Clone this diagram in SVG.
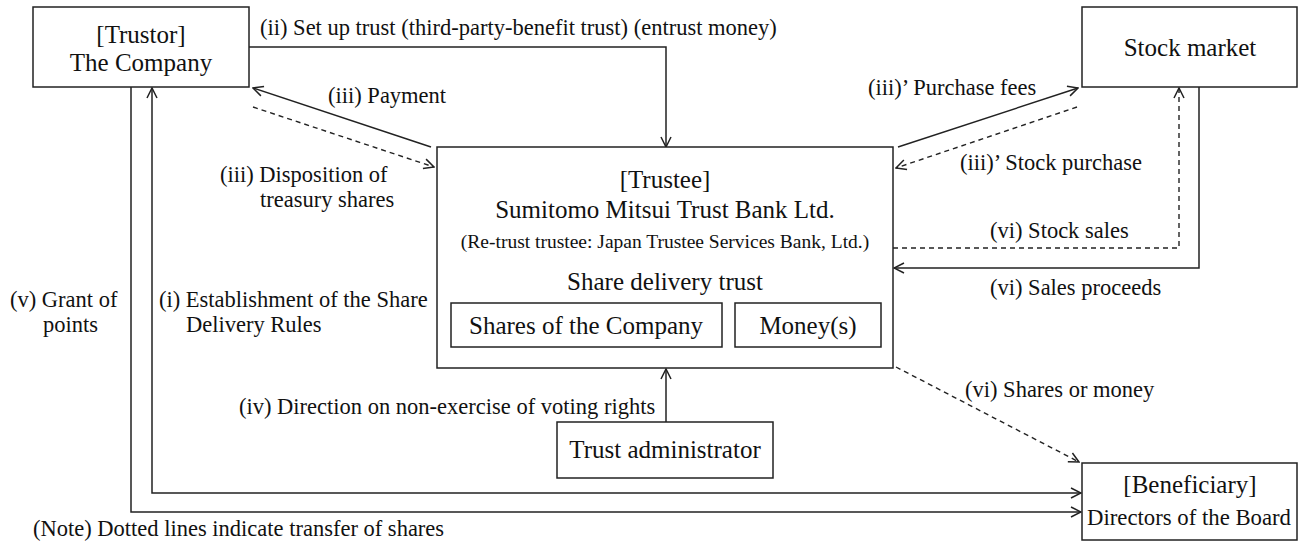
<svg xmlns="http://www.w3.org/2000/svg" width="1305" height="542" viewBox="0 0 1305 542">
<style>
.box{fill:#fff;stroke:#222;stroke-width:1.5}
.ln{fill:none;stroke:#222;stroke-width:1.5}
.ds{fill:none;stroke:#222;stroke-width:1.4;stroke-dasharray:5 4}
text{font-family:"Liberation Serif","Times New Roman",serif;fill:#111}
.nd{font-size:25px;text-anchor:middle}
.lb{font-size:22.5px}
.sm{font-size:19.5px;text-anchor:middle}
</style>
<defs>
<marker id="ah" viewBox="0 0 12 12" refX="11" refY="6" markerWidth="12" markerHeight="12" markerUnits="userSpaceOnUse" orient="auto-start-reverse">
<path d="M1,1 L11,6 L1,11" fill="none" stroke="#222" stroke-width="1.5"/>
</marker>
</defs>
<rect width="1305" height="542" fill="#fff"/>
<g id="connectors">
<polyline class="ln" points="249,47 666,47 666,147" marker-end="url(#ah)"/>
<line class="ln" x1="431" y1="147" x2="253" y2="88" marker-end="url(#ah)"/>
<line class="ds" x1="253" y1="107" x2="434" y2="167" marker-end="url(#ah)"/>
<line class="ln" x1="898" y1="147" x2="1078" y2="88" marker-end="url(#ah)"/>
<line class="ds" x1="1077" y1="107" x2="896" y2="168" marker-end="url(#ah)"/>
<polyline class="ds" points="893,248 1179,248 1179,88" marker-end="url(#ah)"/>
<polyline class="ln" points="1199,87 1199,268 894,268" marker-end="url(#ah)"/>
<line class="ds" x1="896" y1="367" x2="1079" y2="462" marker-end="url(#ah)"/>
<line class="ln" x1="666" y1="422" x2="666" y2="369" marker-end="url(#ah)"/>
<polyline class="ln" points="131,87 131,512 1081,512" marker-end="url(#ah)"/>
<polyline class="ln" points="152,88 152,493 1081,493" marker-start="url(#ah)" marker-end="url(#ah)"/>
</g>
<g id="labels">
<text class="lb" x="260" y="35">(ii) Set up trust (third-party-benefit trust) (entrust money)</text>
<text class="lb" x="328" y="103">(iii) Payment</text>
<text class="lb" x="220" y="182">(iii) Disposition of</text>
<text class="lb" x="260" y="207">treasury shares</text>
<text class="lb" x="868" y="95">(iii)’ Purchase fees</text>
<text class="lb" x="960" y="170">(iii)’ Stock purchase</text>
<text class="lb" x="990" y="238">(vi) Stock sales</text>
<text class="lb" x="990" y="295">(vi) Sales proceeds</text>
<text class="lb" x="10" y="307">(v) Grant of</text>
<text class="lb" x="43" y="332">points</text>
<text class="lb" x="159" y="307">(i) Establishment of the Share</text>
<text class="lb" x="186" y="332">Delivery Rules</text>
<text class="lb" x="239" y="414">(iv) Direction on non-exercise of voting rights</text>
<text class="lb" x="965" y="397">(vi) Shares or money</text>
<text class="lb" x="33" y="536">(Note) Dotted lines indicate transfer of shares</text>
</g>
<g id="trustor">
<rect class="box" x="33" y="7" width="216" height="80"/>
<text class="nd" x="141" y="43">[Trustor]</text>
<text class="nd" x="141" y="71">The Company</text>
</g>
<g id="stock-market">
<rect class="box" x="1082" y="7" width="215" height="80"/>
<text class="nd" x="1190" y="56">Stock market</text>
</g>
<g id="trustee">
<rect class="box" x="437" y="147" width="456" height="221"/>
<text class="nd" x="665" y="188">[Trustee]</text>
<text class="nd" x="665" y="218">Sumitomo Mitsui Trust Bank Ltd.</text>
<text class="sm" x="665" y="248">(Re-trust trustee: Japan Trustee Services Bank, Ltd.)</text>
<text class="nd" x="665" y="290">Share delivery trust</text>
</g>
<g id="shares-of-company">
<rect class="box" x="451" y="303" width="271" height="44"/>
<text class="nd" x="586" y="334">Shares of the Company</text>
</g>
<g id="money">
<rect class="box" x="735" y="303" width="146" height="44"/>
<text class="nd" x="808" y="334">Money(s)</text>
</g>
<g id="trust-administrator">
<rect class="box" x="557" y="422" width="216" height="56"/>
<text class="nd" x="665" y="458">Trust administrator</text>
</g>
<g id="beneficiary">
<rect class="box" x="1082" y="463" width="215" height="77"/>
<text class="nd" x="1190" y="493">[Beneficiary]</text>
<text class="nd" x="1189" y="525" style="font-size:24px" textLength="204" lengthAdjust="spacingAndGlyphs">Directors of the Board</text>
</g>
</svg>
